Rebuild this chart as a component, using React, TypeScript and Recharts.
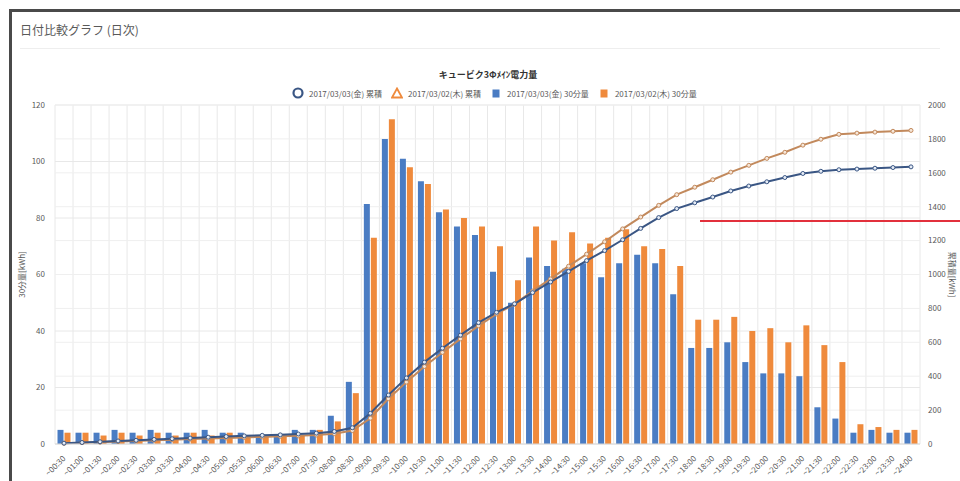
import React from 'react';
import { ComposedChart, Bar, Line, XAxis, YAxis, CartesianGrid, Label } from 'recharts';

// half-hour slots, each label is the end of the period
const slots = [
  '00:30', '01:00', '01:30', '02:00', '02:30', '03:00', '03:30', '04:00',
  '04:30', '05:00', '05:30', '06:00', '06:30', '07:00', '07:30', '08:00',
  '08:30', '09:00', '09:30', '10:00', '10:30', '11:00', '11:30', '12:00',
  '12:30', '13:00', '13:30', '14:00', '14:30', '15:00', '15:30', '16:00',
  '16:30', '17:00', '17:30', '18:00', '18:30', '19:00', '19:30', '20:00',
  '20:30', '21:00', '21:30', '22:00', '22:30', '23:00', '23:30', '24:00',
];

// 30-minute energy [kWh]
const half0303 = [
  5, 4, 4, 5, 4, 5, 4, 4, 5, 4, 4, 3, 3, 5, 5, 10,
  22, 85, 108, 101, 93, 82, 77, 74, 61, 50, 66, 63, 62, 64, 59, 64,
  67, 64, 53, 34, 34, 36, 29, 25, 25, 24, 13, 9, 4, 5, 4, 4,
];
const half0302 = [
  4, 4, 3, 4, 3, 4, 3, 4, 3, 4, 3, 3, 3, 3, 5, 8,
  18, 73, 115, 98, 92, 83, 80, 77, 70, 58, 77, 72, 75, 71, 73, 76,
  70, 69, 63, 44, 44, 45, 40, 41, 36, 42, 35, 29, 7, 6, 5, 5,
];

// running total [kWh]
const total0303 = [
  5, 9, 13, 18, 22, 27, 31, 35, 40, 44, 48, 51, 54, 59, 64, 74,
  96, 181, 289, 390, 483, 565, 642, 716, 777, 827, 893, 956, 1018, 1082, 1141, 1205,
  1272, 1336, 1389, 1423, 1457, 1493, 1522, 1547, 1572, 1596, 1609, 1618, 1622, 1627, 1631, 1635,
];
const total0302 = [
  4, 8, 11, 15, 18, 22, 25, 29, 32, 36, 39, 42, 45, 48, 53, 61,
  79, 152, 267, 365, 457, 540, 620, 697, 767, 825, 902, 974, 1049, 1120, 1193, 1269,
  1339, 1408, 1471, 1515, 1559, 1604, 1644, 1685, 1721, 1763, 1798, 1827, 1834, 1840, 1845, 1850,
];

const leftTicks = [0, 20, 40, 60, 80, 100, 120];
const rightTicks = [0, 200, 400, 600, 800, 1000, 1200, 1400, 1600, 1800, 2000];

const BLUE = '#4a7cc3';
const ORANGE = '#ef8a3c';
const NAVY = '#3a5684';
const TAN = '#c2895c';
const TEXT = '#595959';
const FONT = '"Noto Sans CJK JP", "Noto Sans", sans-serif';

const data = slots.map((slot, i) => ({
  slot: `~${slot}`,
  half0303: half0303[i],
  half0302: half0302[i],
  total0303: total0303[i],
  total0302: total0302[i],
}));

const SlotTick = (props: any) => {
  const { x, y, payload } = props;
  return (
    <g transform={`translate(${x},${y + 5})`}>
      <text
        textAnchor="end"
        transform="rotate(-45)"
        fontSize={8}
        fill={TEXT}
        fontFamily={FONT}
        dy={3}
      >
        {payload.value}
      </text>
    </g>
  );
};

const legendItems = [
  { label: '2017/03/03(金) 累積', icon: 'circle', color: NAVY },
  { label: '2017/03/02(木) 累積', icon: 'triangle', color: ORANGE },
  { label: '2017/03/03(金) 30分量', icon: 'square', color: BLUE },
  { label: '2017/03/02(木) 30分量', icon: 'square', color: ORANGE },
];

const LegendIcon = ({ icon, color }: { icon: string; color: string }) => (
  <svg width={12} height={12} style={{ marginRight: 5 }}>
    {icon === 'circle' && <circle cx={6} cy={6} r={4.5} fill="none" stroke={color} strokeWidth={2.2} />}
    {icon === 'triangle' && <polygon points="6,1.5 11,10.5 1,10.5" fill="none" stroke={color} strokeWidth={1.8} />}
    {icon === 'square' && <rect x={2.5} y={2.5} width={7} height={8} fill={color} />}
  </svg>
);

const App = () => {
  const n = slots.length;
  return (
    <div
      style={{
        position: 'absolute',
        left: 0,
        top: 0,
        width: 960,
        height: 481,
        background: '#fff',
        overflow: 'hidden',
        fontFamily: FONT,
      }}
    >
      {/* panel frame */}
      <div
        style={{
          position: 'absolute',
          left: 9,
          top: 9,
          width: 960,
          height: 480,
          borderTop: '3px solid #4a4a4a',
          borderLeft: '3px solid #4a4a4a',
        }}
      />
      <div style={{ position: 'absolute', left: 20, top: 21, fontSize: 12, color: TEXT }}>
        日付比較グラフ (日次)
      </div>
      <div style={{ position: 'absolute', left: 20, top: 48, width: 920, height: 1, background: '#eeeeee' }} />

      <div
        style={{
          position: 'absolute',
          left: 0,
          top: 68,
          width: 976,
          textAlign: 'center',
          fontSize: 9,
          fontWeight: 'bold',
          color: '#333',
        }}
      >
        キュービク3Φﾒｲﾝ電力量
      </div>
      <div
        style={{
          position: 'absolute',
          left: 292,
          top: 87,
          display: 'flex',
          alignItems: 'center',
          fontSize: 8,
          color: TEXT,
          whiteSpace: 'nowrap',
        }}
      >
        {legendItems.map((item) => (
          <span key={item.label} style={{ display: 'flex', alignItems: 'center', marginRight: 9 }}>
            <LegendIcon icon={item.icon} color={item.color} />
            {item.label}
          </span>
        ))}
      </div>

      <div style={{ position: 'absolute', left: 0, top: 0 }}>
        <ComposedChart
          width={960}
          height={481}
          data={data}
          margin={{ top: 105, right: 0, bottom: 0, left: 0 }}
          barCategoryGap={2.5}
          barGap={1}
        >
          <CartesianGrid
            yAxisId="left"
            stroke="#e8e8e8"
            verticalCoordinatesGenerator={({ offset }: any) =>
              Array.from({ length: n + 1 }, (_, i) => offset.left + (i * offset.width) / n)
            }
          />
          <CartesianGrid yAxisId="right" stroke="#efefef" vertical={false} />
          <XAxis
            dataKey="slot"
            interval={0}
            height={37}
            tick={<SlotTick />}
            tickLine={false}
            axisLine={{ stroke: '#d9d9d9' }}
          />
          <YAxis
            yAxisId="left"
            width={55}
            domain={[0, 120]}
            ticks={leftTicks}
            tickLine={false}
            axisLine={false}
            tick={{ fontSize: 8, fill: TEXT, fontFamily: FONT, dx: -2 }}
          >
            <Label
              value="30分量[kWh]"
              angle={-90}
              position="insideLeft"
              offset={22}
              style={{ fontSize: 8, fill: TEXT, fontFamily: FONT, textAnchor: 'middle' }}
            />
          </YAxis>
          <YAxis
            yAxisId="right"
            orientation="right"
            width={40}
            domain={[0, 2000]}
            ticks={rightTicks}
            tickLine={false}
            axisLine={false}
            tick={{ fontSize: 8, fill: TEXT, fontFamily: FONT }}
          >
            <Label
              value="累積量[kWh]"
              angle={90}
              position="insideRight"
              offset={8}
              style={{ fontSize: 8, fill: TEXT, fontFamily: FONT, textAnchor: 'middle' }}
            />
          </YAxis>
          <Bar yAxisId="left" dataKey="half0303" fill={BLUE} isAnimationActive={false} />
          <Bar yAxisId="left" dataKey="half0302" fill={ORANGE} isAnimationActive={false} />
          <Line
            yAxisId="right"
            type="linear"
            dataKey="total0302"
            stroke={TAN}
            strokeWidth={2}
            dot={{ r: 2, fill: '#f6e6d8', stroke: TAN, strokeWidth: 1 }}
            isAnimationActive={false}
          />
          <Line
            yAxisId="right"
            type="linear"
            dataKey="total0303"
            stroke={NAVY}
            strokeWidth={2}
            dot={{ r: 2, fill: '#e4ebf5', stroke: NAVY, strokeWidth: 1 }}
            isAnimationActive={false}
          />
        </ComposedChart>
      </div>

      {/* red marker line */}
      <div style={{ position: 'absolute', left: 700, top: 220, width: 260, height: 1.5, background: '#e2303c' }} />
    </div>
  );
};

export default App;
